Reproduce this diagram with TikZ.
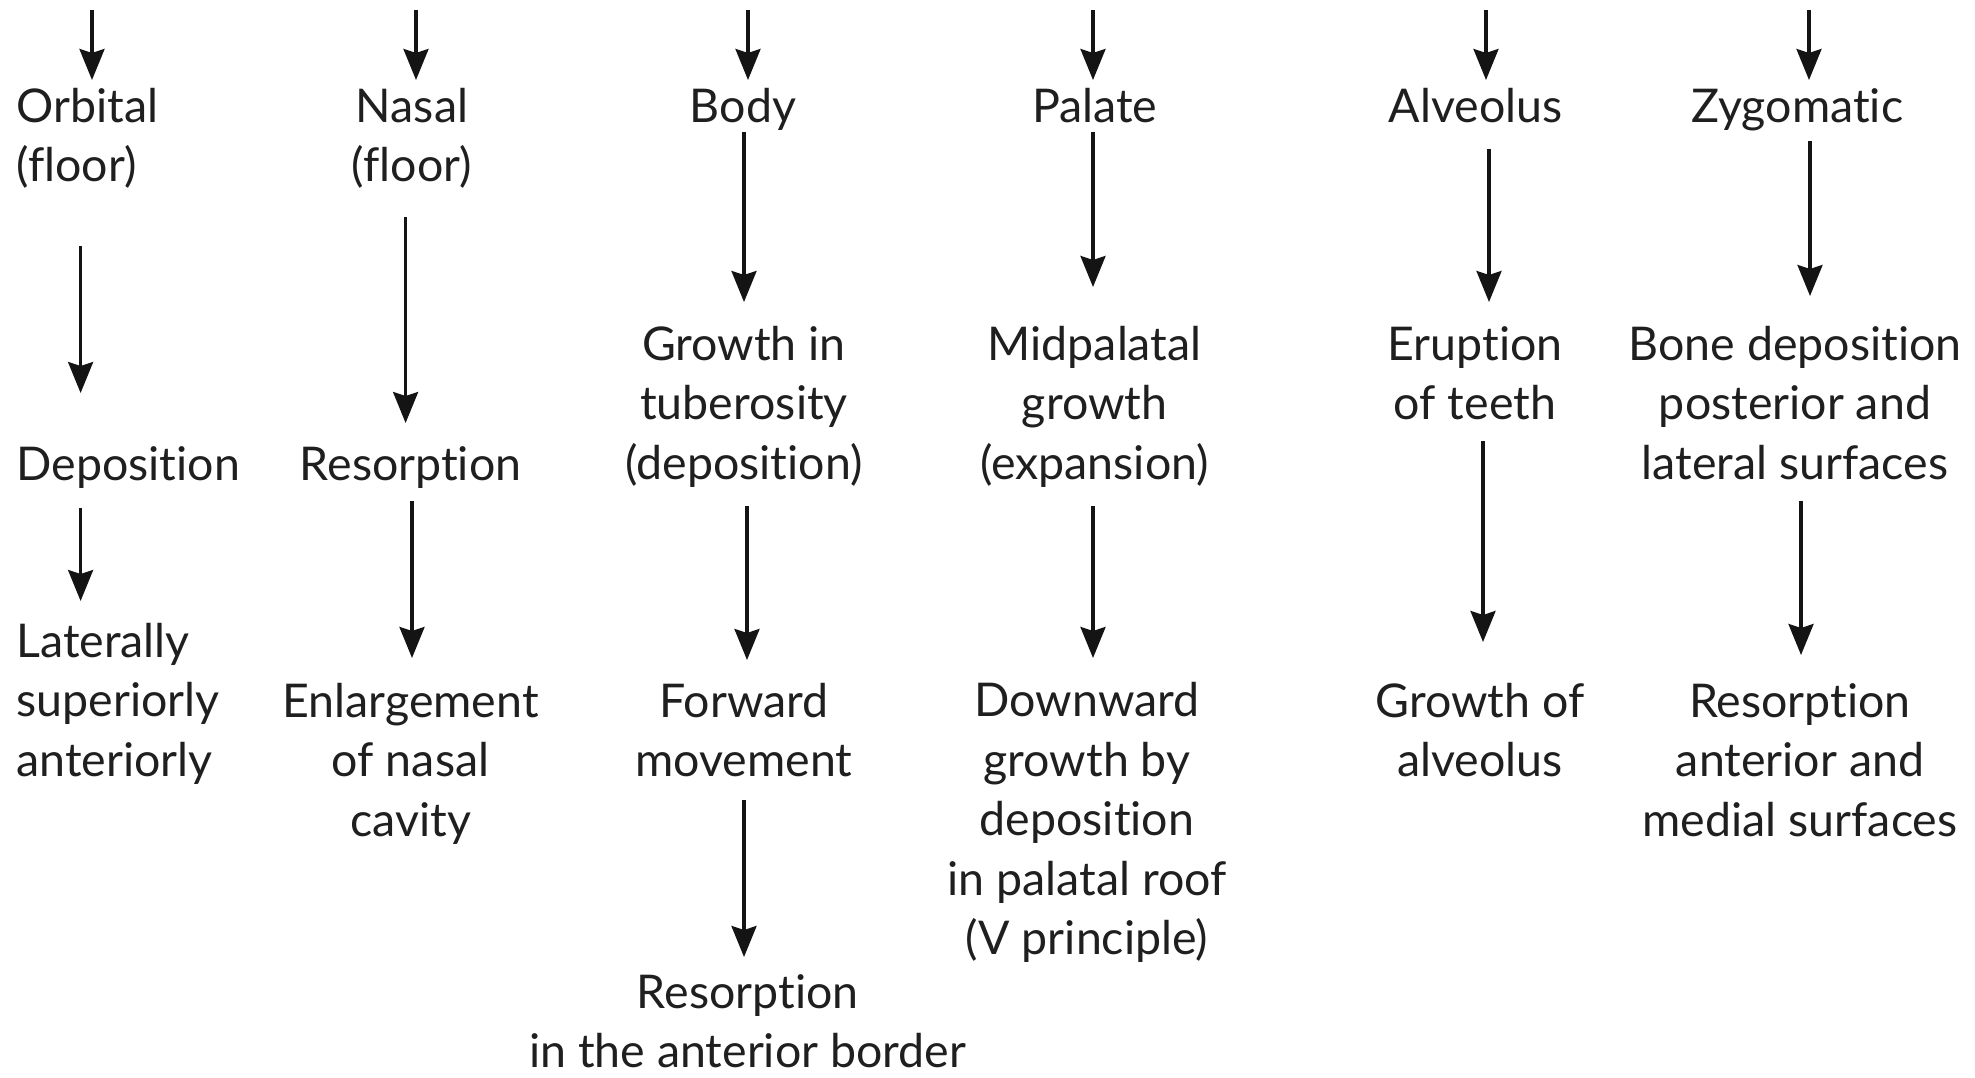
\documentclass[tikz,border=0pt]{standalone}
\usepackage{fontspec}
\setmainfont[Ligatures={NoCommon}]{Lato}
\usetikzlibrary{arrows.meta}
\newcommand\st{\rule[-13pt]{0pt}{59.5pt}}
\tikzset{
  lbl/.style={inner sep=0pt, outer sep=0pt, align=center, text=black!88,
    font=\fontsize{46.5}{59.5}\selectfont},
  lft/.style={lbl, anchor=west, text width=240pt, align=left},
  arr/.style={line width=3.1pt, draw=black!92,
    -{Stealth[width=25pt,length=31pt,inset=4pt]}},
}
\begin{document}
\begin{tikzpicture}[x=1pt,y=-1pt]
\useasboundingbox[fill=white] (0,0) rectangle (1975,1077);

% Orbital column
\node[lft] (orbA) at (16.4,135) {\st Orbital\\\st(floor)};
\node[lft] (orbB) at (16.4,464) {\st Deposition};
\node[lft] (orbC) at (16.4,700) {\st Laterally\\\st superiorly\\\st anteriorly};
% Nasal column
\node[lbl] (nasA) at (412,135) {\st Nasal\\\st(floor)};
\node[lbl] (nasB) at (410.6,464) {\st Resorption};
\node[lbl] (nasC) at (410.6,760) {\st Enlargement\\\st of nasal\\\st cavity};
% Body column
\node[lbl] (bodA) at (743,106) {\st Body};
\node[lbl] (bodB) at (744,403) {\st Growth in\\\st tuberosity\\\st(deposition)};
\node[lbl] (bodC) at (744,730) {\st Forward\\\st movement};
\node[lbl] (bodD) at (747.6,1021) {\st Resorption\\\st in the anterior border};
% Palate column
\node[lbl] (palA) at (1094.6,106) {\st Palate};
\node[lbl] (palB) at (1094.6,403) {\st Midpalatal\\\st growth\\\st(expansion)};
\node[lbl] (palC) at (1087,819) {\st Downward\\\st growth by\\\st deposition\\\st in palatal roof\\\st(V principle)};
% Alveolus column
\node[lbl] (alvA) at (1475.6,106) {\st Alveolus};
\node[lbl] (alvB) at (1475,373) {\st Eruption\\\st of teeth};
\node[lbl] (alvC) at (1480,730) {\st Growth of\\\st alveolus};
% Zygomatic column
\node[lbl] (zygA) at (1797.5,106) {\st Zygomatic};
\node[lbl] (zygB) at (1795,403) {\st Bone deposition\\\st posterior and\\\st lateral surfaces};
\node[lbl] (zygC) at (1800,760) {\st Resorption\\\st anterior and\\\st medial surfaces};

% free starts of the top arrows
\coordinate (tO) at (92,10);
\coordinate (tN) at (416,10);
\coordinate (tB) at (748,10);
\coordinate (tP) at (1093,10);
\coordinate (tA) at (1486,10);
\coordinate (tZ) at (1809,10);

\draw[arr, shorten >=-4.5pt] (tO) -- (tO |- orbA.north);
\draw[arr, shorten >=-4.5pt] (tN) -- (tN |- nasA.north);
\draw[arr, shorten >=-3.75pt] (tB) -- (tB |- bodA.north);
\draw[arr, shorten >=-3.75pt] (tP) -- (tP |- palA.north);
\draw[arr, shorten >=-3.75pt] (tA) -- (tA |- alvA.north);
\draw[arr, shorten >=-3.75pt] (tZ) -- (tZ |- zygA.north);

% Orbital
\draw[arr] ([xshift=-55.8pt,yshift=-51.5pt]orbA.south) -- ([xshift=-55.8pt,yshift=41.25pt]orbB.north);
\draw[arr] ([xshift=-55.8pt,yshift=-14.25pt]orbB.south) -- ([xshift=-55.8pt,yshift=9.75pt]orbC.north);
% Nasal
\draw[arr] ([xshift=-6.4pt,yshift=-22.5pt]nasA.south) -- ([xshift=-5pt,yshift=11.25pt]nasB.north);
\draw[arr] ([xshift=1.4pt,yshift=-7.25pt]nasB.south) -- ([xshift=1.4pt,yshift=12.75pt]nasC.north);
% Body
\draw[arr] ([xshift=1pt,yshift=3.75pt]bodA.south) -- ([xshift=0pt,yshift=11.75pt]bodB.north);
\draw[arr] ([xshift=3pt,yshift=-13.75pt]bodB.south) -- ([xshift=3pt,yshift=10.5pt]bodC.north);
\draw[arr] ([xshift=0pt,yshift=-10.5pt]bodC.south) -- ([xshift=-3.6pt,yshift=4.5pt]bodD.north);
% Palate
\draw[arr] ([xshift=-1.6pt,yshift=3.75pt]palA.south) -- ([xshift=-1.6pt,yshift=26.75pt]palB.north);
\draw[arr] ([xshift=-1.6pt,yshift=-13.75pt]palB.south) -- ([xshift=6pt,yshift=12.25pt]palC.north);
% Alveolus
\draw[arr] ([xshift=13.4pt,yshift=-13.25pt]alvA.south) -- ([xshift=14pt,yshift=11.5pt]alvB.north);
\draw[arr] ([xshift=8pt,yshift=-8.5pt]alvB.south) -- ([xshift=3pt,yshift=28.5pt]alvC.north);
% Zygomatic
\draw[arr] ([xshift=12.5pt,yshift=-5.25pt]zygA.south) -- ([xshift=15pt,yshift=17.75pt]zygB.north);
\draw[arr] ([xshift=6pt,yshift=-8.75pt]zygB.south) -- ([xshift=1pt,yshift=15.75pt]zygC.north);
\end{tikzpicture}
\end{document}
